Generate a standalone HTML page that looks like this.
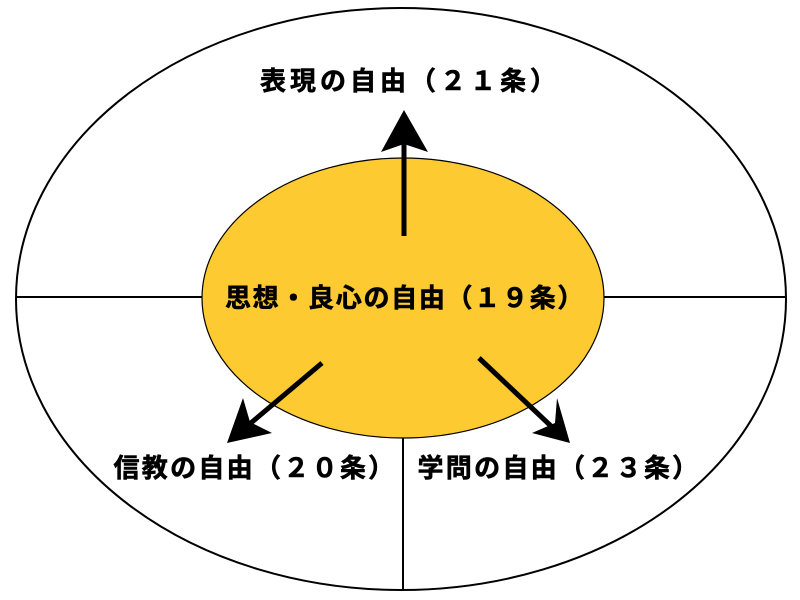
<!DOCTYPE html>
<html><head><meta charset="utf-8"><style>
html,body{margin:0;padding:0;background:#fff;}
svg{display:block}
text{font-family:"Liberation Sans","Noto Sans CJK JP",sans-serif;font-weight:bold;font-size:26px;fill:#000;text-anchor:middle;dominant-baseline:central;stroke:#000;stroke-width:0.6}
</style></head><body>
<svg width="800" height="600" viewBox="0 0 800 600" xmlns="http://www.w3.org/2000/svg">
<ellipse cx="401" cy="299" rx="385" ry="291" fill="#fff" stroke="#000" stroke-width="2"/>
<line x1="16" y1="297" x2="205" y2="297" stroke="#000" stroke-width="2"/>
<line x1="600" y1="297" x2="786" y2="297" stroke="#000" stroke-width="2"/>
<line x1="403" y1="430" x2="403" y2="590" stroke="#000" stroke-width="2"/>
<ellipse cx="403" cy="298" rx="201" ry="140" fill="#FDCA32" stroke="#000" stroke-width="1.2"/>
<line x1="404" y1="236" x2="404" y2="140" stroke="#000" stroke-width="5"/>
<polygon points="404,110 428,152 404,144 381,152" fill="#000"/>
<line x1="322" y1="363" x2="245" y2="428" stroke="#000" stroke-width="5"/>
<polygon points="227,443 243,398 250,422 272,433" fill="#000"/>
<line x1="479" y1="358" x2="552" y2="427" stroke="#000" stroke-width="5"/>
<polygon points="570,443 532,433 555,423 557,398" fill="#000"/>
<text x="410" y="81" style="letter-spacing:4px">表現の自由（２１条）</text>
<text x="405" y="298" style="letter-spacing:1.7px">思想・良心の自由（１９条）</text>
<text x="255" y="468" style="letter-spacing:2.3px">信教の自由（２０条）</text>
<text x="559" y="468" style="letter-spacing:2.3px">学問の自由（２３条）</text>
</svg>
</body></html>
